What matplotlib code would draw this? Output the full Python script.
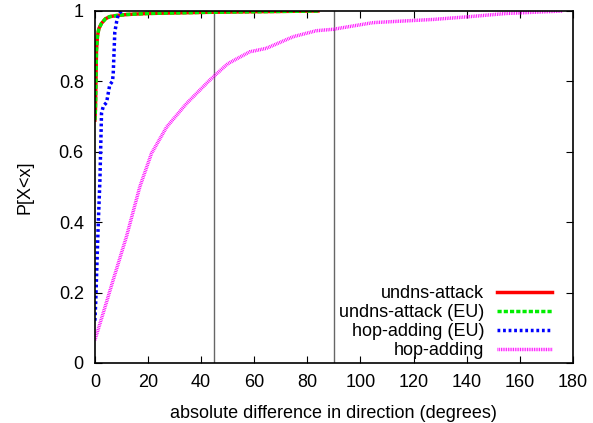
import matplotlib
matplotlib.use("Agg")
import matplotlib.pyplot as plt

plt.rcParams['font.family'] = ['Liberation Sans', 'DejaVu Sans']

# undns-attack
ua_x = [0, 0.2, 0.4, 0.6, 1.0, 1.5, 2.5, 4.0, 5.6, 8, 12, 20, 40, 60, 84]
ua_y = [0.69, 0.72, 0.80, 0.89, 0.93, 0.95, 0.965, 0.978, 0.984, 0.987, 0.99, 0.993, 0.996, 0.998, 1.0]
# undns-attack (EU)
ue_x = [0, 0.2, 0.4, 0.6, 1.0, 1.5, 2.5, 4.0, 5.6, 8, 12, 20, 40, 60, 84]
ue_y = [0.69, 0.72, 0.80, 0.89, 0.93, 0.95, 0.965, 0.978, 0.984, 0.987, 0.99, 0.993, 0.996, 0.998, 1.0]
# hop-adding (EU)
he_x = [0, 0.3, 0.6, 1.2, 1.9, 2.5, 3.2, 4.4, 5.6, 6.6, 6.9, 7.5, 8.2, 8.8, 10]
he_y = [0.12, 0.17, 0.24, 0.38, 0.52, 0.71, 0.73, 0.74, 0.79, 0.80, 0.82, 0.94, 0.97, 0.99, 1.0]
# hop-adding
ha_x = [0, 3.1, 6.9, 11.9, 16.9, 21.3, 27, 34.5, 43.3, 50, 58.3, 64.6, 74.7,
        83.4, 89.7, 104.8, 127.4, 141.2, 155, 176.3]
ha_y = [0.065, 0.141, 0.236, 0.359, 0.50, 0.595, 0.67, 0.737, 0.804, 0.85, 0.884,
        0.894, 0.927, 0.944, 0.948, 0.967, 0.976, 0.984, 0.993, 1.0]

fig = plt.figure(figsize=(5.93, 4.23), dpi=100)
ax = fig.add_axes([0.160, 0.142, 0.806, 0.832])

ax.axvline(45, color='#666666', lw=1)
ax.axvline(90, color='#666666', lw=1)

ax.plot(ua_x, ua_y, color='#ff0000', lw=2.5, label='undns-attack')
ax.plot(ue_x, ue_y, color='#00ee00', lw=2.5, ls=(0, (1.2, 0.6)), label='undns-attack (EU)')
ax.plot(he_x, he_y, color='#0000ff', lw=2.5, ls=(0, (0.8, 0.8)), label='hop-adding (EU)')
ax.plot(ha_x, ha_y, color='#ff00ff', lw=2.5, ls=(0, (0.25, 0.25)), label='hop-adding')

ax.set_xlim(0, 180)
ax.set_ylim(0, 1)
ax.set_xticks(range(0, 181, 20))
ax.set_yticks([0, 0.2, 0.4, 0.6, 0.8, 1])
ax.set_yticklabels(['0', '0.2', '0.4', '0.6', '0.8', '1'])
ax.tick_params(direction='in', top=True, right=True, labelsize=13, length=5)
ax.tick_params(axis='x', pad=8)
ax.tick_params(axis='y', pad=8)
for s in ax.spines.values():
    s.set_linewidth(1.2)

ax.set_xlabel('absolute difference in direction (degrees)', fontsize=13, labelpad=10)
ax.set_ylabel('P[X<x]', fontsize=13, labelpad=18)

ax.legend(loc='lower right', bbox_to_anchor=(0.956, 0.01), frameon=False,
          markerfirst=False, fontsize=13, handlelength=3.05, labelspacing=0.12,
          borderpad=0, borderaxespad=0, handletextpad=0.7)

fig.savefig('out.png', dpi=100)
